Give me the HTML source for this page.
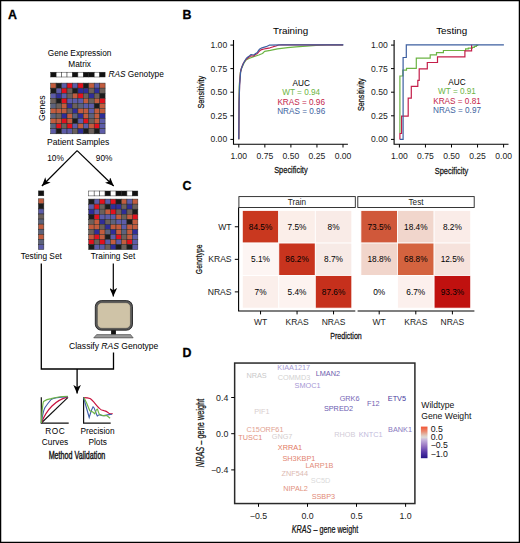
<!DOCTYPE html><html><head><meta charset="utf-8"><style>html,body{margin:0;padding:0;background:#fff;width:520px;height:543px;overflow:hidden}svg{display:block}text{font-family:"Liberation Sans",sans-serif}</style></head><body>
<svg width="520" height="543" viewBox="0 0 520 543">
<rect x="0" y="0" width="520" height="543" fill="#fff"/>
<rect x="0.6" y="0.6" width="518.8" height="541.8" fill="none" stroke="#000" stroke-width="1.3"/>
<defs><marker id="ah" viewBox="0 0 10 10" refX="10" refY="5" markerWidth="8.6" markerHeight="7.6" preserveAspectRatio="none" markerUnits="userSpaceOnUse" orient="auto"><path d="M0,0 L10,5 L0,10 L2.6,5 Z" fill="#000"/></marker></defs>
<text x="8.00" y="18.70" font-size="12.4" text-anchor="start" fill="#000" font-weight="bold" stroke="#000" stroke-width="0.3">A</text>
<text x="79.60" y="56.40" font-size="8.3" text-anchor="middle" fill="#000">Gene Expression</text>
<text x="79.60" y="66.80" font-size="8.3" text-anchor="middle" fill="#000">Matrix</text>
<rect x="50.70" y="72.20" width="5.44" height="4.80" fill="#111" stroke="#222" stroke-width="0.45"/>
<rect x="56.14" y="72.20" width="5.44" height="4.80" fill="#fff" stroke="#222" stroke-width="0.45"/>
<rect x="61.58" y="72.20" width="5.44" height="4.80" fill="#fff" stroke="#222" stroke-width="0.45"/>
<rect x="67.02" y="72.20" width="5.44" height="4.80" fill="#fff" stroke="#222" stroke-width="0.45"/>
<rect x="72.46" y="72.20" width="5.44" height="4.80" fill="#111" stroke="#222" stroke-width="0.45"/>
<rect x="77.90" y="72.20" width="5.44" height="4.80" fill="#fff" stroke="#222" stroke-width="0.45"/>
<rect x="83.34" y="72.20" width="5.44" height="4.80" fill="#111" stroke="#222" stroke-width="0.45"/>
<rect x="88.78" y="72.20" width="5.44" height="4.80" fill="#111" stroke="#222" stroke-width="0.45"/>
<rect x="94.22" y="72.20" width="5.44" height="4.80" fill="#fff" stroke="#222" stroke-width="0.45"/>
<rect x="99.66" y="72.20" width="5.44" height="4.80" fill="#111" stroke="#222" stroke-width="0.45"/>
<text x="108.5" y="77.3" font-size="8.3"><tspan font-style="italic">RAS</tspan> Genotype</text>
<rect x="50.70" y="83.10" width="5.44" height="5.07" fill="#c25c3e" stroke="#2a2a2a" stroke-width="0.5"/>
<rect x="56.14" y="83.10" width="5.44" height="5.07" fill="#1c1c1c" stroke="#2a2a2a" stroke-width="0.5"/>
<rect x="61.58" y="83.10" width="5.44" height="5.07" fill="#5d5ca8" stroke="#2a2a2a" stroke-width="0.5"/>
<rect x="67.02" y="83.10" width="5.44" height="5.07" fill="#e2111d" stroke="#2a2a2a" stroke-width="0.5"/>
<rect x="72.46" y="83.10" width="5.44" height="5.07" fill="#5d5ca8" stroke="#2a2a2a" stroke-width="0.5"/>
<rect x="77.90" y="83.10" width="5.44" height="5.07" fill="#e2111d" stroke="#2a2a2a" stroke-width="0.5"/>
<rect x="83.34" y="83.10" width="5.44" height="5.07" fill="#1c1c1c" stroke="#2a2a2a" stroke-width="0.5"/>
<rect x="88.78" y="83.10" width="5.44" height="5.07" fill="#c25c3e" stroke="#2a2a2a" stroke-width="0.5"/>
<rect x="94.22" y="83.10" width="5.44" height="5.07" fill="#5d5ca8" stroke="#2a2a2a" stroke-width="0.5"/>
<rect x="99.66" y="83.10" width="5.44" height="5.07" fill="#c25c3e" stroke="#2a2a2a" stroke-width="0.5"/>
<rect x="50.70" y="88.17" width="5.44" height="5.07" fill="#1c1c1c" stroke="#2a2a2a" stroke-width="0.5"/>
<rect x="56.14" y="88.17" width="5.44" height="5.07" fill="#5d5ca8" stroke="#2a2a2a" stroke-width="0.5"/>
<rect x="61.58" y="88.17" width="5.44" height="5.07" fill="#e2111d" stroke="#2a2a2a" stroke-width="0.5"/>
<rect x="67.02" y="88.17" width="5.44" height="5.07" fill="#6c605b" stroke="#2a2a2a" stroke-width="0.5"/>
<rect x="72.46" y="88.17" width="5.44" height="5.07" fill="#1c1c1c" stroke="#2a2a2a" stroke-width="0.5"/>
<rect x="77.90" y="88.17" width="5.44" height="5.07" fill="#2f2d98" stroke="#2a2a2a" stroke-width="0.5"/>
<rect x="83.34" y="88.17" width="5.44" height="5.07" fill="#2f2d98" stroke="#2a2a2a" stroke-width="0.5"/>
<rect x="88.78" y="88.17" width="5.44" height="5.07" fill="#6c605b" stroke="#2a2a2a" stroke-width="0.5"/>
<rect x="94.22" y="88.17" width="5.44" height="5.07" fill="#2f2d98" stroke="#2a2a2a" stroke-width="0.5"/>
<rect x="99.66" y="88.17" width="5.44" height="5.07" fill="#6c605b" stroke="#2a2a2a" stroke-width="0.5"/>
<rect x="50.70" y="93.24" width="5.44" height="5.07" fill="#5d5ca8" stroke="#2a2a2a" stroke-width="0.5"/>
<rect x="56.14" y="93.24" width="5.44" height="5.07" fill="#2f2d98" stroke="#2a2a2a" stroke-width="0.5"/>
<rect x="61.58" y="93.24" width="5.44" height="5.07" fill="#5d5ca8" stroke="#2a2a2a" stroke-width="0.5"/>
<rect x="67.02" y="93.24" width="5.44" height="5.07" fill="#6c605b" stroke="#2a2a2a" stroke-width="0.5"/>
<rect x="72.46" y="93.24" width="5.44" height="5.07" fill="#c25c3e" stroke="#2a2a2a" stroke-width="0.5"/>
<rect x="77.90" y="93.24" width="5.44" height="5.07" fill="#e2111d" stroke="#2a2a2a" stroke-width="0.5"/>
<rect x="83.34" y="93.24" width="5.44" height="5.07" fill="#6c605b" stroke="#2a2a2a" stroke-width="0.5"/>
<rect x="88.78" y="93.24" width="5.44" height="5.07" fill="#2f2d98" stroke="#2a2a2a" stroke-width="0.5"/>
<rect x="94.22" y="93.24" width="5.44" height="5.07" fill="#6c605b" stroke="#2a2a2a" stroke-width="0.5"/>
<rect x="99.66" y="93.24" width="5.44" height="5.07" fill="#1c1c1c" stroke="#2a2a2a" stroke-width="0.5"/>
<rect x="50.70" y="98.31" width="5.44" height="5.07" fill="#6c605b" stroke="#2a2a2a" stroke-width="0.5"/>
<rect x="56.14" y="98.31" width="5.44" height="5.07" fill="#1c1c1c" stroke="#2a2a2a" stroke-width="0.5"/>
<rect x="61.58" y="98.31" width="5.44" height="5.07" fill="#e2111d" stroke="#2a2a2a" stroke-width="0.5"/>
<rect x="67.02" y="98.31" width="5.44" height="5.07" fill="#5d5ca8" stroke="#2a2a2a" stroke-width="0.5"/>
<rect x="72.46" y="98.31" width="5.44" height="5.07" fill="#5d5ca8" stroke="#2a2a2a" stroke-width="0.5"/>
<rect x="77.90" y="98.31" width="5.44" height="5.07" fill="#5d5ca8" stroke="#2a2a2a" stroke-width="0.5"/>
<rect x="83.34" y="98.31" width="5.44" height="5.07" fill="#c25c3e" stroke="#2a2a2a" stroke-width="0.5"/>
<rect x="88.78" y="98.31" width="5.44" height="5.07" fill="#6c605b" stroke="#2a2a2a" stroke-width="0.5"/>
<rect x="94.22" y="98.31" width="5.44" height="5.07" fill="#c25c3e" stroke="#2a2a2a" stroke-width="0.5"/>
<rect x="99.66" y="98.31" width="5.44" height="5.07" fill="#e2111d" stroke="#2a2a2a" stroke-width="0.5"/>
<rect x="50.70" y="103.38" width="5.44" height="5.07" fill="#5c627c" stroke="#2a2a2a" stroke-width="0.5"/>
<rect x="56.14" y="103.38" width="5.44" height="5.07" fill="#6c605b" stroke="#2a2a2a" stroke-width="0.5"/>
<rect x="61.58" y="103.38" width="5.44" height="5.07" fill="#c25c3e" stroke="#2a2a2a" stroke-width="0.5"/>
<rect x="67.02" y="103.38" width="5.44" height="5.07" fill="#2f2d98" stroke="#2a2a2a" stroke-width="0.5"/>
<rect x="72.46" y="103.38" width="5.44" height="5.07" fill="#6c605b" stroke="#2a2a2a" stroke-width="0.5"/>
<rect x="77.90" y="103.38" width="5.44" height="5.07" fill="#5c627c" stroke="#2a2a2a" stroke-width="0.5"/>
<rect x="83.34" y="103.38" width="5.44" height="5.07" fill="#5d5ca8" stroke="#2a2a2a" stroke-width="0.5"/>
<rect x="88.78" y="103.38" width="5.44" height="5.07" fill="#5d5ca8" stroke="#2a2a2a" stroke-width="0.5"/>
<rect x="94.22" y="103.38" width="5.44" height="5.07" fill="#1c1c1c" stroke="#2a2a2a" stroke-width="0.5"/>
<rect x="99.66" y="103.38" width="5.44" height="5.07" fill="#c25c3e" stroke="#2a2a2a" stroke-width="0.5"/>
<rect x="50.70" y="108.45" width="5.44" height="5.07" fill="#c25c3e" stroke="#2a2a2a" stroke-width="0.5"/>
<rect x="56.14" y="108.45" width="5.44" height="5.07" fill="#c25c3e" stroke="#2a2a2a" stroke-width="0.5"/>
<rect x="61.58" y="108.45" width="5.44" height="5.07" fill="#c25c3e" stroke="#2a2a2a" stroke-width="0.5"/>
<rect x="67.02" y="108.45" width="5.44" height="5.07" fill="#6c605b" stroke="#2a2a2a" stroke-width="0.5"/>
<rect x="72.46" y="108.45" width="5.44" height="5.07" fill="#2f2d98" stroke="#2a2a2a" stroke-width="0.5"/>
<rect x="77.90" y="108.45" width="5.44" height="5.07" fill="#c25c3e" stroke="#2a2a2a" stroke-width="0.5"/>
<rect x="83.34" y="108.45" width="5.44" height="5.07" fill="#c25c3e" stroke="#2a2a2a" stroke-width="0.5"/>
<rect x="88.78" y="108.45" width="5.44" height="5.07" fill="#5d5ca8" stroke="#2a2a2a" stroke-width="0.5"/>
<rect x="94.22" y="108.45" width="5.44" height="5.07" fill="#c25c3e" stroke="#2a2a2a" stroke-width="0.5"/>
<rect x="99.66" y="108.45" width="5.44" height="5.07" fill="#c25c3e" stroke="#2a2a2a" stroke-width="0.5"/>
<rect x="50.70" y="113.52" width="5.44" height="5.07" fill="#5c627c" stroke="#2a2a2a" stroke-width="0.5"/>
<rect x="56.14" y="113.52" width="5.44" height="5.07" fill="#6c605b" stroke="#2a2a2a" stroke-width="0.5"/>
<rect x="61.58" y="113.52" width="5.44" height="5.07" fill="#2f2d98" stroke="#2a2a2a" stroke-width="0.5"/>
<rect x="67.02" y="113.52" width="5.44" height="5.07" fill="#c25c3e" stroke="#2a2a2a" stroke-width="0.5"/>
<rect x="72.46" y="113.52" width="5.44" height="5.07" fill="#5c627c" stroke="#2a2a2a" stroke-width="0.5"/>
<rect x="77.90" y="113.52" width="5.44" height="5.07" fill="#2f2d98" stroke="#2a2a2a" stroke-width="0.5"/>
<rect x="83.34" y="113.52" width="5.44" height="5.07" fill="#c25c3e" stroke="#2a2a2a" stroke-width="0.5"/>
<rect x="88.78" y="113.52" width="5.44" height="5.07" fill="#5c627c" stroke="#2a2a2a" stroke-width="0.5"/>
<rect x="94.22" y="113.52" width="5.44" height="5.07" fill="#c25c3e" stroke="#2a2a2a" stroke-width="0.5"/>
<rect x="99.66" y="113.52" width="5.44" height="5.07" fill="#2f2d98" stroke="#2a2a2a" stroke-width="0.5"/>
<rect x="50.70" y="118.59" width="5.44" height="5.07" fill="#c25c3e" stroke="#2a2a2a" stroke-width="0.5"/>
<rect x="56.14" y="118.59" width="5.44" height="5.07" fill="#c25c3e" stroke="#2a2a2a" stroke-width="0.5"/>
<rect x="61.58" y="118.59" width="5.44" height="5.07" fill="#e2111d" stroke="#2a2a2a" stroke-width="0.5"/>
<rect x="67.02" y="118.59" width="5.44" height="5.07" fill="#c25c3e" stroke="#2a2a2a" stroke-width="0.5"/>
<rect x="72.46" y="118.59" width="5.44" height="5.07" fill="#1c1c1c" stroke="#2a2a2a" stroke-width="0.5"/>
<rect x="77.90" y="118.59" width="5.44" height="5.07" fill="#5d5ca8" stroke="#2a2a2a" stroke-width="0.5"/>
<rect x="83.34" y="118.59" width="5.44" height="5.07" fill="#e2111d" stroke="#2a2a2a" stroke-width="0.5"/>
<rect x="88.78" y="118.59" width="5.44" height="5.07" fill="#6c605b" stroke="#2a2a2a" stroke-width="0.5"/>
<rect x="94.22" y="118.59" width="5.44" height="5.07" fill="#c25c3e" stroke="#2a2a2a" stroke-width="0.5"/>
<rect x="99.66" y="118.59" width="5.44" height="5.07" fill="#5d5ca8" stroke="#2a2a2a" stroke-width="0.5"/>
<rect x="50.70" y="123.66" width="5.44" height="5.07" fill="#5c627c" stroke="#2a2a2a" stroke-width="0.5"/>
<rect x="56.14" y="123.66" width="5.44" height="5.07" fill="#e2111d" stroke="#2a2a2a" stroke-width="0.5"/>
<rect x="61.58" y="123.66" width="5.44" height="5.07" fill="#6c605b" stroke="#2a2a2a" stroke-width="0.5"/>
<rect x="67.02" y="123.66" width="5.44" height="5.07" fill="#e2111d" stroke="#2a2a2a" stroke-width="0.5"/>
<rect x="72.46" y="123.66" width="5.44" height="5.07" fill="#5d5ca8" stroke="#2a2a2a" stroke-width="0.5"/>
<rect x="77.90" y="123.66" width="5.44" height="5.07" fill="#c25c3e" stroke="#2a2a2a" stroke-width="0.5"/>
<rect x="83.34" y="123.66" width="5.44" height="5.07" fill="#5d5ca8" stroke="#2a2a2a" stroke-width="0.5"/>
<rect x="88.78" y="123.66" width="5.44" height="5.07" fill="#c25c3e" stroke="#2a2a2a" stroke-width="0.5"/>
<rect x="94.22" y="123.66" width="5.44" height="5.07" fill="#e2111d" stroke="#2a2a2a" stroke-width="0.5"/>
<rect x="99.66" y="123.66" width="5.44" height="5.07" fill="#5d5ca8" stroke="#2a2a2a" stroke-width="0.5"/>
<rect x="50.70" y="128.73" width="5.44" height="5.07" fill="#5d5ca8" stroke="#2a2a2a" stroke-width="0.5"/>
<rect x="56.14" y="128.73" width="5.44" height="5.07" fill="#1c1c1c" stroke="#2a2a2a" stroke-width="0.5"/>
<rect x="61.58" y="128.73" width="5.44" height="5.07" fill="#5d5ca8" stroke="#2a2a2a" stroke-width="0.5"/>
<rect x="67.02" y="128.73" width="5.44" height="5.07" fill="#5d5ca8" stroke="#2a2a2a" stroke-width="0.5"/>
<rect x="72.46" y="128.73" width="5.44" height="5.07" fill="#6c605b" stroke="#2a2a2a" stroke-width="0.5"/>
<rect x="77.90" y="128.73" width="5.44" height="5.07" fill="#2f2d98" stroke="#2a2a2a" stroke-width="0.5"/>
<rect x="83.34" y="128.73" width="5.44" height="5.07" fill="#1c1c1c" stroke="#2a2a2a" stroke-width="0.5"/>
<rect x="88.78" y="128.73" width="5.44" height="5.07" fill="#6c605b" stroke="#2a2a2a" stroke-width="0.5"/>
<rect x="94.22" y="128.73" width="5.44" height="5.07" fill="#1c1c1c" stroke="#2a2a2a" stroke-width="0.5"/>
<rect x="99.66" y="128.73" width="5.44" height="5.07" fill="#5d5ca8" stroke="#2a2a2a" stroke-width="0.5"/>
<text x="0.00" y="0.00" font-size="8.7" text-anchor="middle" fill="#000" transform="translate(45.20,108.30) rotate(-90)">Genes</text>
<text x="78.20" y="144.80" font-size="8.55" text-anchor="middle" fill="#000">Patient Samples</text>
<path d="M77.1,150.6 L41.9,186.0" stroke="#000" stroke-width="1.25" fill="none" marker-end="url(#ah)"/>
<path d="M77.1,150.6 L113.7,186.0" stroke="#000" stroke-width="1.25" fill="none" marker-end="url(#ah)"/>
<text x="55.50" y="161.20" font-size="8.3" text-anchor="middle" fill="#000">10%</text>
<text x="104.10" y="161.20" font-size="8.3" text-anchor="middle" fill="#000">90%</text>
<rect x="38.40" y="190.90" width="5.44" height="4.90" fill="#111" stroke="#222" stroke-width="0.45"/>
<rect x="38.40" y="198.80" width="5.44" height="5.07" fill="#c25c3e" stroke="#2a2a2a" stroke-width="0.5"/>
<rect x="38.40" y="203.87" width="5.44" height="5.07" fill="#1c1c1c" stroke="#2a2a2a" stroke-width="0.5"/>
<rect x="38.40" y="208.94" width="5.44" height="5.07" fill="#5d5ca8" stroke="#2a2a2a" stroke-width="0.5"/>
<rect x="38.40" y="214.01" width="5.44" height="5.07" fill="#6c605b" stroke="#2a2a2a" stroke-width="0.5"/>
<rect x="38.40" y="219.08" width="5.44" height="5.07" fill="#5c627c" stroke="#2a2a2a" stroke-width="0.5"/>
<rect x="38.40" y="224.15" width="5.44" height="5.07" fill="#c25c3e" stroke="#2a2a2a" stroke-width="0.5"/>
<rect x="38.40" y="229.22" width="5.44" height="5.07" fill="#5c627c" stroke="#2a2a2a" stroke-width="0.5"/>
<rect x="38.40" y="234.29" width="5.44" height="5.07" fill="#c25c3e" stroke="#2a2a2a" stroke-width="0.5"/>
<rect x="38.40" y="239.36" width="5.44" height="5.07" fill="#5c627c" stroke="#2a2a2a" stroke-width="0.5"/>
<rect x="38.40" y="244.43" width="5.44" height="5.07" fill="#5d5ca8" stroke="#2a2a2a" stroke-width="0.5"/>
<rect x="88.70" y="191.00" width="5.46" height="4.90" fill="#fff" stroke="#222" stroke-width="0.45"/>
<rect x="94.16" y="191.00" width="5.46" height="4.90" fill="#fff" stroke="#222" stroke-width="0.45"/>
<rect x="99.62" y="191.00" width="5.46" height="4.90" fill="#fff" stroke="#222" stroke-width="0.45"/>
<rect x="105.08" y="191.00" width="5.46" height="4.90" fill="#111" stroke="#222" stroke-width="0.45"/>
<rect x="110.54" y="191.00" width="5.46" height="4.90" fill="#fff" stroke="#222" stroke-width="0.45"/>
<rect x="116.00" y="191.00" width="5.46" height="4.90" fill="#111" stroke="#222" stroke-width="0.45"/>
<rect x="121.46" y="191.00" width="5.46" height="4.90" fill="#111" stroke="#222" stroke-width="0.45"/>
<rect x="126.92" y="191.00" width="5.46" height="4.90" fill="#fff" stroke="#222" stroke-width="0.45"/>
<rect x="132.38" y="191.00" width="5.46" height="4.90" fill="#111" stroke="#222" stroke-width="0.45"/>
<rect x="88.70" y="199.10" width="5.46" height="5.05" fill="#1c1c1c" stroke="#2a2a2a" stroke-width="0.5"/>
<rect x="94.16" y="199.10" width="5.46" height="5.05" fill="#5d5ca8" stroke="#2a2a2a" stroke-width="0.5"/>
<rect x="99.62" y="199.10" width="5.46" height="5.05" fill="#e2111d" stroke="#2a2a2a" stroke-width="0.5"/>
<rect x="105.08" y="199.10" width="5.46" height="5.05" fill="#5d5ca8" stroke="#2a2a2a" stroke-width="0.5"/>
<rect x="110.54" y="199.10" width="5.46" height="5.05" fill="#e2111d" stroke="#2a2a2a" stroke-width="0.5"/>
<rect x="116.00" y="199.10" width="5.46" height="5.05" fill="#1c1c1c" stroke="#2a2a2a" stroke-width="0.5"/>
<rect x="121.46" y="199.10" width="5.46" height="5.05" fill="#c25c3e" stroke="#2a2a2a" stroke-width="0.5"/>
<rect x="126.92" y="199.10" width="5.46" height="5.05" fill="#5d5ca8" stroke="#2a2a2a" stroke-width="0.5"/>
<rect x="132.38" y="199.10" width="5.46" height="5.05" fill="#c25c3e" stroke="#2a2a2a" stroke-width="0.5"/>
<rect x="88.70" y="204.15" width="5.46" height="5.05" fill="#5d5ca8" stroke="#2a2a2a" stroke-width="0.5"/>
<rect x="94.16" y="204.15" width="5.46" height="5.05" fill="#e2111d" stroke="#2a2a2a" stroke-width="0.5"/>
<rect x="99.62" y="204.15" width="5.46" height="5.05" fill="#6c605b" stroke="#2a2a2a" stroke-width="0.5"/>
<rect x="105.08" y="204.15" width="5.46" height="5.05" fill="#1c1c1c" stroke="#2a2a2a" stroke-width="0.5"/>
<rect x="110.54" y="204.15" width="5.46" height="5.05" fill="#2f2d98" stroke="#2a2a2a" stroke-width="0.5"/>
<rect x="116.00" y="204.15" width="5.46" height="5.05" fill="#2f2d98" stroke="#2a2a2a" stroke-width="0.5"/>
<rect x="121.46" y="204.15" width="5.46" height="5.05" fill="#6c605b" stroke="#2a2a2a" stroke-width="0.5"/>
<rect x="126.92" y="204.15" width="5.46" height="5.05" fill="#2f2d98" stroke="#2a2a2a" stroke-width="0.5"/>
<rect x="132.38" y="204.15" width="5.46" height="5.05" fill="#6c605b" stroke="#2a2a2a" stroke-width="0.5"/>
<rect x="88.70" y="209.20" width="5.46" height="5.05" fill="#2f2d98" stroke="#2a2a2a" stroke-width="0.5"/>
<rect x="94.16" y="209.20" width="5.46" height="5.05" fill="#5d5ca8" stroke="#2a2a2a" stroke-width="0.5"/>
<rect x="99.62" y="209.20" width="5.46" height="5.05" fill="#6c605b" stroke="#2a2a2a" stroke-width="0.5"/>
<rect x="105.08" y="209.20" width="5.46" height="5.05" fill="#c25c3e" stroke="#2a2a2a" stroke-width="0.5"/>
<rect x="110.54" y="209.20" width="5.46" height="5.05" fill="#e2111d" stroke="#2a2a2a" stroke-width="0.5"/>
<rect x="116.00" y="209.20" width="5.46" height="5.05" fill="#6c605b" stroke="#2a2a2a" stroke-width="0.5"/>
<rect x="121.46" y="209.20" width="5.46" height="5.05" fill="#2f2d98" stroke="#2a2a2a" stroke-width="0.5"/>
<rect x="126.92" y="209.20" width="5.46" height="5.05" fill="#6c605b" stroke="#2a2a2a" stroke-width="0.5"/>
<rect x="132.38" y="209.20" width="5.46" height="5.05" fill="#1c1c1c" stroke="#2a2a2a" stroke-width="0.5"/>
<rect x="88.70" y="214.25" width="5.46" height="5.05" fill="#1c1c1c" stroke="#2a2a2a" stroke-width="0.5"/>
<rect x="94.16" y="214.25" width="5.46" height="5.05" fill="#e2111d" stroke="#2a2a2a" stroke-width="0.5"/>
<rect x="99.62" y="214.25" width="5.46" height="5.05" fill="#5d5ca8" stroke="#2a2a2a" stroke-width="0.5"/>
<rect x="105.08" y="214.25" width="5.46" height="5.05" fill="#5d5ca8" stroke="#2a2a2a" stroke-width="0.5"/>
<rect x="110.54" y="214.25" width="5.46" height="5.05" fill="#5d5ca8" stroke="#2a2a2a" stroke-width="0.5"/>
<rect x="116.00" y="214.25" width="5.46" height="5.05" fill="#c25c3e" stroke="#2a2a2a" stroke-width="0.5"/>
<rect x="121.46" y="214.25" width="5.46" height="5.05" fill="#6c605b" stroke="#2a2a2a" stroke-width="0.5"/>
<rect x="126.92" y="214.25" width="5.46" height="5.05" fill="#c25c3e" stroke="#2a2a2a" stroke-width="0.5"/>
<rect x="132.38" y="214.25" width="5.46" height="5.05" fill="#e2111d" stroke="#2a2a2a" stroke-width="0.5"/>
<rect x="88.70" y="219.30" width="5.46" height="5.05" fill="#6c605b" stroke="#2a2a2a" stroke-width="0.5"/>
<rect x="94.16" y="219.30" width="5.46" height="5.05" fill="#c25c3e" stroke="#2a2a2a" stroke-width="0.5"/>
<rect x="99.62" y="219.30" width="5.46" height="5.05" fill="#2f2d98" stroke="#2a2a2a" stroke-width="0.5"/>
<rect x="105.08" y="219.30" width="5.46" height="5.05" fill="#6c605b" stroke="#2a2a2a" stroke-width="0.5"/>
<rect x="110.54" y="219.30" width="5.46" height="5.05" fill="#5c627c" stroke="#2a2a2a" stroke-width="0.5"/>
<rect x="116.00" y="219.30" width="5.46" height="5.05" fill="#5d5ca8" stroke="#2a2a2a" stroke-width="0.5"/>
<rect x="121.46" y="219.30" width="5.46" height="5.05" fill="#5d5ca8" stroke="#2a2a2a" stroke-width="0.5"/>
<rect x="126.92" y="219.30" width="5.46" height="5.05" fill="#1c1c1c" stroke="#2a2a2a" stroke-width="0.5"/>
<rect x="132.38" y="219.30" width="5.46" height="5.05" fill="#c25c3e" stroke="#2a2a2a" stroke-width="0.5"/>
<rect x="88.70" y="224.35" width="5.46" height="5.05" fill="#c25c3e" stroke="#2a2a2a" stroke-width="0.5"/>
<rect x="94.16" y="224.35" width="5.46" height="5.05" fill="#c25c3e" stroke="#2a2a2a" stroke-width="0.5"/>
<rect x="99.62" y="224.35" width="5.46" height="5.05" fill="#6c605b" stroke="#2a2a2a" stroke-width="0.5"/>
<rect x="105.08" y="224.35" width="5.46" height="5.05" fill="#2f2d98" stroke="#2a2a2a" stroke-width="0.5"/>
<rect x="110.54" y="224.35" width="5.46" height="5.05" fill="#c25c3e" stroke="#2a2a2a" stroke-width="0.5"/>
<rect x="116.00" y="224.35" width="5.46" height="5.05" fill="#c25c3e" stroke="#2a2a2a" stroke-width="0.5"/>
<rect x="121.46" y="224.35" width="5.46" height="5.05" fill="#5d5ca8" stroke="#2a2a2a" stroke-width="0.5"/>
<rect x="126.92" y="224.35" width="5.46" height="5.05" fill="#c25c3e" stroke="#2a2a2a" stroke-width="0.5"/>
<rect x="132.38" y="224.35" width="5.46" height="5.05" fill="#c25c3e" stroke="#2a2a2a" stroke-width="0.5"/>
<rect x="88.70" y="229.40" width="5.46" height="5.05" fill="#6c605b" stroke="#2a2a2a" stroke-width="0.5"/>
<rect x="94.16" y="229.40" width="5.46" height="5.05" fill="#2f2d98" stroke="#2a2a2a" stroke-width="0.5"/>
<rect x="99.62" y="229.40" width="5.46" height="5.05" fill="#c25c3e" stroke="#2a2a2a" stroke-width="0.5"/>
<rect x="105.08" y="229.40" width="5.46" height="5.05" fill="#5c627c" stroke="#2a2a2a" stroke-width="0.5"/>
<rect x="110.54" y="229.40" width="5.46" height="5.05" fill="#2f2d98" stroke="#2a2a2a" stroke-width="0.5"/>
<rect x="116.00" y="229.40" width="5.46" height="5.05" fill="#c25c3e" stroke="#2a2a2a" stroke-width="0.5"/>
<rect x="121.46" y="229.40" width="5.46" height="5.05" fill="#5c627c" stroke="#2a2a2a" stroke-width="0.5"/>
<rect x="126.92" y="229.40" width="5.46" height="5.05" fill="#c25c3e" stroke="#2a2a2a" stroke-width="0.5"/>
<rect x="132.38" y="229.40" width="5.46" height="5.05" fill="#2f2d98" stroke="#2a2a2a" stroke-width="0.5"/>
<rect x="88.70" y="234.45" width="5.46" height="5.05" fill="#c25c3e" stroke="#2a2a2a" stroke-width="0.5"/>
<rect x="94.16" y="234.45" width="5.46" height="5.05" fill="#e2111d" stroke="#2a2a2a" stroke-width="0.5"/>
<rect x="99.62" y="234.45" width="5.46" height="5.05" fill="#c25c3e" stroke="#2a2a2a" stroke-width="0.5"/>
<rect x="105.08" y="234.45" width="5.46" height="5.05" fill="#1c1c1c" stroke="#2a2a2a" stroke-width="0.5"/>
<rect x="110.54" y="234.45" width="5.46" height="5.05" fill="#5d5ca8" stroke="#2a2a2a" stroke-width="0.5"/>
<rect x="116.00" y="234.45" width="5.46" height="5.05" fill="#e2111d" stroke="#2a2a2a" stroke-width="0.5"/>
<rect x="121.46" y="234.45" width="5.46" height="5.05" fill="#6c605b" stroke="#2a2a2a" stroke-width="0.5"/>
<rect x="126.92" y="234.45" width="5.46" height="5.05" fill="#c25c3e" stroke="#2a2a2a" stroke-width="0.5"/>
<rect x="132.38" y="234.45" width="5.46" height="5.05" fill="#5d5ca8" stroke="#2a2a2a" stroke-width="0.5"/>
<rect x="88.70" y="239.50" width="5.46" height="5.05" fill="#e2111d" stroke="#2a2a2a" stroke-width="0.5"/>
<rect x="94.16" y="239.50" width="5.46" height="5.05" fill="#6c605b" stroke="#2a2a2a" stroke-width="0.5"/>
<rect x="99.62" y="239.50" width="5.46" height="5.05" fill="#e2111d" stroke="#2a2a2a" stroke-width="0.5"/>
<rect x="105.08" y="239.50" width="5.46" height="5.05" fill="#5d5ca8" stroke="#2a2a2a" stroke-width="0.5"/>
<rect x="110.54" y="239.50" width="5.46" height="5.05" fill="#c25c3e" stroke="#2a2a2a" stroke-width="0.5"/>
<rect x="116.00" y="239.50" width="5.46" height="5.05" fill="#5d5ca8" stroke="#2a2a2a" stroke-width="0.5"/>
<rect x="121.46" y="239.50" width="5.46" height="5.05" fill="#c25c3e" stroke="#2a2a2a" stroke-width="0.5"/>
<rect x="126.92" y="239.50" width="5.46" height="5.05" fill="#e2111d" stroke="#2a2a2a" stroke-width="0.5"/>
<rect x="132.38" y="239.50" width="5.46" height="5.05" fill="#5d5ca8" stroke="#2a2a2a" stroke-width="0.5"/>
<rect x="88.70" y="244.55" width="5.46" height="5.05" fill="#1c1c1c" stroke="#2a2a2a" stroke-width="0.5"/>
<rect x="94.16" y="244.55" width="5.46" height="5.05" fill="#5d5ca8" stroke="#2a2a2a" stroke-width="0.5"/>
<rect x="99.62" y="244.55" width="5.46" height="5.05" fill="#5d5ca8" stroke="#2a2a2a" stroke-width="0.5"/>
<rect x="105.08" y="244.55" width="5.46" height="5.05" fill="#6c605b" stroke="#2a2a2a" stroke-width="0.5"/>
<rect x="110.54" y="244.55" width="5.46" height="5.05" fill="#2f2d98" stroke="#2a2a2a" stroke-width="0.5"/>
<rect x="116.00" y="244.55" width="5.46" height="5.05" fill="#1c1c1c" stroke="#2a2a2a" stroke-width="0.5"/>
<rect x="121.46" y="244.55" width="5.46" height="5.05" fill="#6c605b" stroke="#2a2a2a" stroke-width="0.5"/>
<rect x="126.92" y="244.55" width="5.46" height="5.05" fill="#1c1c1c" stroke="#2a2a2a" stroke-width="0.5"/>
<rect x="132.38" y="244.55" width="5.46" height="5.05" fill="#5d5ca8" stroke="#2a2a2a" stroke-width="0.5"/>
<text x="41.30" y="258.70" font-size="8.3" text-anchor="middle" fill="#000">Testing Set</text>
<text x="113.00" y="258.70" font-size="8.3" text-anchor="middle" fill="#000">Training Set</text>
<path d="M41.3,263.5 V369 H113.5 V352.5" stroke="#000" stroke-width="1.3" fill="none"/>
<path d="M113.3,263.5 V296.6" stroke="#000" stroke-width="1.2" fill="none" marker-end="url(#ah)"/>
<path d="M77.1,369 V393.5" stroke="#000" stroke-width="1.3" fill="none" marker-end="url(#ah)"/>
<rect x="95.3" y="300.6" width="37.2" height="29.6" rx="6" ry="6" fill="#5a5a5a" stroke="#111" stroke-width="0.8"/>
<rect x="97.4" y="302.7" width="33" height="25.6" rx="4.5" ry="4.5" fill="#cfc3a7" stroke="#333" stroke-width="0.4"/>
<rect x="111.1" y="330.2" width="4.8" height="4.4" fill="#111"/>
<path d="M96.6,334.6 H130.6 L133.2,337.9 H93.7 Z" fill="#9a9a9a" stroke="#222" stroke-width="0.5"/>
<text x="113.7" y="348.6" font-size="8.55" text-anchor="middle">Classify <tspan font-style="italic">RAS</tspan> Genotype</text>
<path d="M41.3,397.3 V423.1 H68.7" stroke="#111" stroke-width="1.2" fill="none"/>
<path d="M41.3,423 L68,397.3" stroke="#111" stroke-width="1.15" fill="none"/>
<path d="M41.3,423 C44,416 48,410 52,406 S60,399 67.8,396.9" stroke="#c8103c" stroke-width="1.15" fill="none"/>
<path d="M41.3,423 C42.5,415 43.5,410 45,407.5 C47,404.5 49,402 51.1,399.5 C54,397.5 57,397.2 67.8,396.6" stroke="#3f5fa8" stroke-width="1.15" fill="none"/>
<path d="M41.3,423 C42,412 42.5,404 43.5,401.5 C46,399.5 49,398.8 51.1,398.6 C55,397.5 60,396.6 67.8,396.3" stroke="#6cb444" stroke-width="1.15" fill="none"/>
<path d="M83.6,397.3 V423.1 H110.7" stroke="#111" stroke-width="1.2" fill="none"/>
<path d="M83.9,397.6 C86,397.6 88,397.7 90,398.6 C93,400.5 96,405 99,408 C100.5,409.8 102,410.4 104,410.6 C106,410.7 107,411.5 108.8,413.2 C110,413.8 111.5,413.9 112.7,413.6" stroke="#c8103c" stroke-width="1.15" fill="none"/>
<path d="M83.6,397.6 L86.5,408 L89.2,417.5 C90,415 91,410 93.1,406.7 C94.5,407 95.5,413 97.3,416 C98.5,415 99,414.6 100,414.8 C101.5,415.8 102.5,415.9 104,415.6 L107.5,414.9 L112,414.3" stroke="#3f5fa8" stroke-width="1.15" fill="none"/>
<path d="M83.9,397.6 L86.5,402.8 L89.8,410.7 L92.8,412 L94.7,413.8 C95.5,412 96.5,409 97.3,409 C98,410 98.5,413.5 99.5,414.3 C101,415.3 102,415.6 104,415.6 L106.8,415.6 L110.1,418.2" stroke="#6cb444" stroke-width="1.15" fill="none"/>
<text x="55.30" y="433.80" font-size="8.3" text-anchor="middle" fill="#000" letter-spacing="0.6">ROC</text>
<text x="55.00" y="444.60" font-size="8.3" text-anchor="middle" fill="#000">Curves</text>
<text x="97.50" y="433.80" font-size="8.3" text-anchor="middle" fill="#000">Precision</text>
<text x="97.70" y="444.60" font-size="8.3" text-anchor="middle" fill="#000">Plots</text>
<text x="0.00" y="0.00" font-size="10.0" text-anchor="middle" fill="#111" transform="translate(77.00,459.30) scale(0.7149,1)" stroke="#111" stroke-width="0.38">Method Validation</text>
<text x="182.40" y="18.50" font-size="12.4" text-anchor="start" fill="#000" font-weight="bold" stroke="#000" stroke-width="0.3">B</text>
<path d="M233.5,40.1 V144.2 H347.9" stroke="#000" stroke-width="1.1" fill="none"/>
<path d="M230.4,45.1 H233.5" stroke="#000" stroke-width="1"/>
<text x="227.20" y="48.10" font-size="8.6" text-anchor="end" fill="#222">1.00</text>
<path d="M230.4,68.6 H233.5" stroke="#000" stroke-width="1"/>
<text x="227.20" y="71.60" font-size="8.6" text-anchor="end" fill="#222">0.75</text>
<path d="M230.4,92.2 H233.5" stroke="#000" stroke-width="1"/>
<text x="227.20" y="95.20" font-size="8.6" text-anchor="end" fill="#222">0.50</text>
<path d="M230.4,115.8 H233.5" stroke="#000" stroke-width="1"/>
<text x="227.20" y="118.80" font-size="8.6" text-anchor="end" fill="#222">0.25</text>
<path d="M230.4,139.4 H233.5" stroke="#000" stroke-width="1"/>
<text x="227.20" y="142.40" font-size="8.6" text-anchor="end" fill="#222">0.00</text>
<path d="M238.80,144.2 V147.5" stroke="#000" stroke-width="1"/>
<text x="238.80" y="159.00" font-size="8.6" text-anchor="middle" fill="#222">1.00</text>
<path d="M264.85,144.2 V147.5" stroke="#000" stroke-width="1"/>
<text x="264.85" y="159.00" font-size="8.6" text-anchor="middle" fill="#222">0.75</text>
<path d="M290.90,144.2 V147.5" stroke="#000" stroke-width="1"/>
<text x="290.90" y="159.00" font-size="8.6" text-anchor="middle" fill="#222">0.50</text>
<path d="M316.95,144.2 V147.5" stroke="#000" stroke-width="1"/>
<text x="316.95" y="159.00" font-size="8.6" text-anchor="middle" fill="#222">0.25</text>
<path d="M343.00,144.2 V147.5" stroke="#000" stroke-width="1"/>
<text x="343.00" y="159.00" font-size="8.6" text-anchor="middle" fill="#222">0.00</text>
<text x="290.60" y="34.20" font-size="9.8" text-anchor="middle" fill="#000">Training</text>
<text x="0.00" y="0.00" font-size="9.6" text-anchor="middle" fill="#111" transform="translate(203.70,92.20) rotate(-90) scale(0.7567,1)" stroke="#111" stroke-width="0.25">Sensitivity</text>
<text x="0.00" y="0.00" font-size="9.6" text-anchor="middle" fill="#111" transform="translate(290.90,173.20) scale(0.7752,1)" stroke="#111" stroke-width="0.25">Specificity</text>
<path d="M394.1,40.1 V144.2 H508.5" stroke="#000" stroke-width="1.1" fill="none"/>
<path d="M391.0,45.1 H394.1" stroke="#000" stroke-width="1"/>
<text x="387.80" y="48.10" font-size="8.6" text-anchor="end" fill="#222">1.00</text>
<path d="M391.0,68.6 H394.1" stroke="#000" stroke-width="1"/>
<text x="387.80" y="71.60" font-size="8.6" text-anchor="end" fill="#222">0.75</text>
<path d="M391.0,92.2 H394.1" stroke="#000" stroke-width="1"/>
<text x="387.80" y="95.20" font-size="8.6" text-anchor="end" fill="#222">0.50</text>
<path d="M391.0,115.8 H394.1" stroke="#000" stroke-width="1"/>
<text x="387.80" y="118.80" font-size="8.6" text-anchor="end" fill="#222">0.25</text>
<path d="M391.0,139.4 H394.1" stroke="#000" stroke-width="1"/>
<text x="387.80" y="142.40" font-size="8.6" text-anchor="end" fill="#222">0.00</text>
<path d="M399.40,144.2 V147.5" stroke="#000" stroke-width="1"/>
<text x="399.40" y="159.40" font-size="8.6" text-anchor="middle" fill="#222">1.00</text>
<path d="M425.45,144.2 V147.5" stroke="#000" stroke-width="1"/>
<text x="425.45" y="159.40" font-size="8.6" text-anchor="middle" fill="#222">0.75</text>
<path d="M451.50,144.2 V147.5" stroke="#000" stroke-width="1"/>
<text x="451.50" y="159.40" font-size="8.6" text-anchor="middle" fill="#222">0.50</text>
<path d="M477.55,144.2 V147.5" stroke="#000" stroke-width="1"/>
<text x="477.55" y="159.40" font-size="8.6" text-anchor="middle" fill="#222">0.25</text>
<path d="M503.60,144.2 V147.5" stroke="#000" stroke-width="1"/>
<text x="503.60" y="159.40" font-size="8.6" text-anchor="middle" fill="#222">0.00</text>
<text x="451.70" y="34.20" font-size="9.8" text-anchor="middle" fill="#000">Testing</text>
<text x="0.00" y="0.00" font-size="9.6" text-anchor="middle" fill="#111" transform="translate(364.30,94.80) rotate(-90) scale(0.7567,1)" stroke="#111" stroke-width="0.25">Sensitivity</text>
<text x="0.00" y="0.00" font-size="9.6" text-anchor="middle" fill="#111" transform="translate(451.50,173.60) scale(0.7752,1)" stroke="#111" stroke-width="0.25">Specificity</text>
<path d="M238.8,139.2 L238.9,103 L239.2,86 L240.3,73 L241.2,69 L242.2,67 L244,63 L246.4,59.7 L249.5,58.2 L253.7,56.6 L258.8,55 L262.5,53.5 L264.6,51.4 L270.3,50.4 L277.5,48.8 L287.7,47.7 L296,46.8 L306.2,46.1 L316,45.4 L326.9,44.85 L343,44.8" stroke="#6cb444" stroke-width="1.2" fill="none" stroke-linejoin="round"/>
<path d="M238.8,139.2 L239.1,103 L239.6,85 L240.5,72 L241.5,68 L243.2,63.5 L244.5,61.5 L246,59.5 L248.5,57.5 L251,55.8 L253.5,56 L255.5,54.5 L257.5,53.5 L259,51.5 L260.9,49.9 L264,49 L267.2,48.3 L270,47.8 L273.4,46.7 L276,46 L278.6,45 L281.7,44.8 L343,44.8" stroke="#c41e4a" stroke-width="1.2" fill="none" stroke-linejoin="round"/>
<path d="M238.8,139.2 L239.1,103 L239.6,85.4 L240.7,71.2 L242.1,66.5 L243.8,62.8 L244.8,60.8 L246.4,58.2 L248.5,56.6 L251.1,54.5 L253.7,55 L255.7,53.5 L257.3,52.5 L258.3,50.9 L259.4,49.3 L262,47.8 L266.1,46.7 L269.2,45.2 L281.7,44.8 L343.5,44.8" stroke="#3d5fa0" stroke-width="1.2" fill="none" stroke-linejoin="round"/>
<path d="M399.9,133 V76 H402.8 V70.2 H406.5 V68.3 H416.3 V58.2 H430.2 V54.8 H436.5 V52.7 H443.4 V50.5 H465.6 V48.8 H468.3 V48.1 H472.3 V47.4 H474.3 V46.3 H476.3 V45.4 H477.7 V44.8" stroke="#6cb444" stroke-width="1.2" fill="none"/>
<path d="M399.9,139.4 V133.5 H401.6 V116.1 H408.2 V98.1 H411.3 V86.4 H417.8 V80.4 H419.2 V68.8 H427.3 V62.5 H437.5 V56.8 H464.9 V50.8 H471.6 V44.7" stroke="#c41e4a" stroke-width="1.2" fill="none"/>
<path d="M399.9,139.4 H403.1 V57.5 H406.3 V44.8 H503.9" stroke="#3d5fa0" stroke-width="1.2" fill="none"/>
<text x="301.20" y="86.00" font-size="8.2" text-anchor="middle" fill="#000">AUC</text>
<text x="301.20" y="95.20" font-size="8.2" text-anchor="middle" fill="#6cb444">WT = 0.94</text>
<text x="301.20" y="104.50" font-size="8.2" text-anchor="middle" fill="#c41e4a">KRAS = 0.96</text>
<text x="301.20" y="113.90" font-size="8.2" text-anchor="middle" fill="#3d5fa0">NRAS = 0.96</text>
<text x="457.00" y="85.10" font-size="8.2" text-anchor="middle" fill="#000">AUC</text>
<text x="457.00" y="94.30" font-size="8.2" text-anchor="middle" fill="#6cb444">WT = 0.91</text>
<text x="457.00" y="103.60" font-size="8.2" text-anchor="middle" fill="#c41e4a">KRAS = 0.81</text>
<text x="457.00" y="113.00" font-size="8.2" text-anchor="middle" fill="#3d5fa0">NRAS = 0.97</text>
<text x="182.40" y="190.20" font-size="12.4" text-anchor="start" fill="#000" font-weight="bold" stroke="#000" stroke-width="0.3">C</text>
<rect x="238.9" y="196.6" width="116.4" height="10.9" fill="#fff" stroke="#222" stroke-width="0.9"/>
<rect x="357.8" y="196.6" width="116.4" height="10.9" fill="#fff" stroke="#222" stroke-width="0.9"/>
<text x="297.00" y="204.80" font-size="8.2" text-anchor="middle" fill="#222">Train</text>
<text x="416.00" y="204.80" font-size="8.2" text-anchor="middle" fill="#222">Test</text>
<rect x="242.30" y="210.50" width="36.50" height="32.55" fill="#c9381f" stroke="#fff" stroke-width="0.8"/>
<text x="260.55" y="229.77" font-size="8.3" text-anchor="middle" fill="#000">84.5%</text>
<rect x="278.80" y="210.50" width="36.50" height="32.55" fill="#fbeee9" stroke="#fff" stroke-width="0.8"/>
<text x="297.05" y="229.77" font-size="8.3" text-anchor="middle" fill="#000">7.5%</text>
<rect x="315.30" y="210.50" width="36.50" height="32.55" fill="#f9ebe7" stroke="#fff" stroke-width="0.8"/>
<text x="333.55" y="229.77" font-size="8.3" text-anchor="middle" fill="#000">8%</text>
<rect x="242.30" y="243.05" width="36.50" height="32.55" fill="#fdf5f3" stroke="#fff" stroke-width="0.8"/>
<text x="260.55" y="262.32" font-size="8.3" text-anchor="middle" fill="#000">5.1%</text>
<rect x="278.80" y="243.05" width="36.50" height="32.55" fill="#c8341e" stroke="#fff" stroke-width="0.8"/>
<text x="297.05" y="262.32" font-size="8.3" text-anchor="middle" fill="#000">86.2%</text>
<rect x="315.30" y="243.05" width="36.50" height="32.55" fill="#f7eae6" stroke="#fff" stroke-width="0.8"/>
<text x="333.55" y="262.32" font-size="8.3" text-anchor="middle" fill="#000">8.7%</text>
<rect x="242.30" y="275.60" width="36.50" height="32.55" fill="#fbefeb" stroke="#fff" stroke-width="0.8"/>
<text x="260.55" y="294.87" font-size="8.3" text-anchor="middle" fill="#000">7%</text>
<rect x="278.80" y="275.60" width="36.50" height="32.55" fill="#fdf3f0" stroke="#fff" stroke-width="0.8"/>
<text x="297.05" y="294.87" font-size="8.3" text-anchor="middle" fill="#000">5.4%</text>
<rect x="315.30" y="275.60" width="36.50" height="32.55" fill="#c6301c" stroke="#fff" stroke-width="0.8"/>
<text x="333.55" y="294.87" font-size="8.3" text-anchor="middle" fill="#000">87.6%</text>
<rect x="360.90" y="210.50" width="36.60" height="32.55" fill="#d0583a" stroke="#fff" stroke-width="0.8"/>
<text x="379.20" y="229.77" font-size="8.3" text-anchor="middle" fill="#000">73.5%</text>
<rect x="397.50" y="210.50" width="36.60" height="32.55" fill="#f1d6cc" stroke="#fff" stroke-width="0.8"/>
<text x="415.80" y="229.77" font-size="8.3" text-anchor="middle" fill="#000">18.4%</text>
<rect x="434.10" y="210.50" width="36.60" height="32.55" fill="#faece8" stroke="#fff" stroke-width="0.8"/>
<text x="452.40" y="229.77" font-size="8.3" text-anchor="middle" fill="#000">8.2%</text>
<rect x="360.90" y="243.05" width="36.60" height="32.55" fill="#f1d5cb" stroke="#fff" stroke-width="0.8"/>
<text x="379.20" y="262.32" font-size="8.3" text-anchor="middle" fill="#000">18.8%</text>
<rect x="397.50" y="243.05" width="36.60" height="32.55" fill="#d4633f" stroke="#fff" stroke-width="0.8"/>
<text x="415.80" y="262.32" font-size="8.3" text-anchor="middle" fill="#000">68.8%</text>
<rect x="434.10" y="243.05" width="36.60" height="32.55" fill="#f6e2dc" stroke="#fff" stroke-width="0.8"/>
<text x="452.40" y="262.32" font-size="8.3" text-anchor="middle" fill="#000">12.5%</text>
<rect x="360.90" y="275.60" width="36.60" height="32.55" fill="#ffffff" stroke="#fff" stroke-width="0.8"/>
<text x="379.20" y="294.87" font-size="8.3" text-anchor="middle" fill="#000">0%</text>
<rect x="397.50" y="275.60" width="36.60" height="32.55" fill="#fcf0ed" stroke="#fff" stroke-width="0.8"/>
<text x="415.80" y="294.87" font-size="8.3" text-anchor="middle" fill="#000">6.7%</text>
<rect x="434.10" y="275.60" width="36.60" height="32.55" fill="#c0110f" stroke="#fff" stroke-width="0.8"/>
<text x="452.40" y="294.87" font-size="8.3" text-anchor="middle" fill="#000">93.3%</text>
<path d="M238.6,207.5 V311 H355.3" stroke="#000" stroke-width="1.1" fill="none"/>
<path d="M357.6,311 H474.4" stroke="#000" stroke-width="1.1" fill="none"/>
<path d="M234.8,226.78 H238.6" stroke="#000" stroke-width="1"/>
<text x="231.60" y="229.88" font-size="8.6" text-anchor="end" fill="#222">WT</text>
<path d="M260.55,311 V314.4" stroke="#000" stroke-width="1"/>
<text x="260.55" y="325.40" font-size="8.5" text-anchor="middle" fill="#222">WT</text>
<path d="M379.20,311 V314.4" stroke="#000" stroke-width="1"/>
<text x="379.20" y="325.40" font-size="8.5" text-anchor="middle" fill="#222">WT</text>
<path d="M234.8,259.33 H238.6" stroke="#000" stroke-width="1"/>
<text x="231.60" y="262.43" font-size="8.6" text-anchor="end" fill="#222">KRAS</text>
<path d="M297.05,311 V314.4" stroke="#000" stroke-width="1"/>
<text x="297.05" y="325.40" font-size="8.5" text-anchor="middle" fill="#222">KRAS</text>
<path d="M415.80,311 V314.4" stroke="#000" stroke-width="1"/>
<text x="415.80" y="325.40" font-size="8.5" text-anchor="middle" fill="#222">KRAS</text>
<path d="M234.8,291.88 H238.6" stroke="#000" stroke-width="1"/>
<text x="231.60" y="294.98" font-size="8.6" text-anchor="end" fill="#222">NRAS</text>
<path d="M333.55,311 V314.4" stroke="#000" stroke-width="1"/>
<text x="333.55" y="325.40" font-size="8.5" text-anchor="middle" fill="#222">NRAS</text>
<path d="M452.40,311 V314.4" stroke="#000" stroke-width="1"/>
<text x="452.40" y="325.40" font-size="8.5" text-anchor="middle" fill="#222">NRAS</text>
<text x="0.00" y="0.00" font-size="9.6" text-anchor="middle" fill="#111" transform="translate(202.20,259.30) rotate(-90) scale(0.7158,1)" stroke="#111" stroke-width="0.25">Genotype</text>
<text x="0.00" y="0.00" font-size="9.6" text-anchor="middle" fill="#111" transform="translate(346.00,338.80) scale(0.7402,1)" stroke="#111" stroke-width="0.25">Prediction</text>
<text x="182.40" y="357.00" font-size="12.4" text-anchor="start" fill="#000" font-weight="bold" stroke="#000" stroke-width="0.3">D</text>
<rect x="234.65" y="363.05" width="180.25" height="140.5" fill="none" stroke="#2a2a2a" stroke-width="1.5"/>
<path d="M231.2,397.5 H234.6" stroke="#000" stroke-width="1"/>
<text x="228.30" y="400.50" font-size="8.8" text-anchor="end" fill="#222">0.4</text>
<path d="M231.2,433.7 H234.6" stroke="#000" stroke-width="1"/>
<text x="228.30" y="436.70" font-size="8.8" text-anchor="end" fill="#222">0.0</text>
<path d="M231.2,469.9 H234.6" stroke="#000" stroke-width="1"/>
<text x="228.30" y="472.90" font-size="8.8" text-anchor="end" fill="#222">−0.4</text>
<path d="M258.5,503.4 V506.8" stroke="#000" stroke-width="1"/>
<text x="258.50" y="518.80" font-size="8.8" text-anchor="middle" fill="#222">−0.5</text>
<path d="M307.5,503.4 V506.8" stroke="#000" stroke-width="1"/>
<text x="307.50" y="518.80" font-size="8.8" text-anchor="middle" fill="#222">0.0</text>
<path d="M356.5,503.4 V506.8" stroke="#000" stroke-width="1"/>
<text x="356.50" y="518.80" font-size="8.8" text-anchor="middle" fill="#222">0.5</text>
<path d="M405.6,503.4 V506.8" stroke="#000" stroke-width="1"/>
<text x="405.60" y="518.80" font-size="8.8" text-anchor="middle" fill="#222">1.0</text>
<text font-size="10" text-anchor="middle" fill="#111" stroke="#111" stroke-width="0.25" transform="translate(203.8,433) rotate(-90) scale(0.738,1)"><tspan font-style="italic">NRAS</tspan> – gene weight</text>
<text font-size="10" text-anchor="middle" fill="#111" stroke="#111" stroke-width="0.25" transform="translate(325.0,532.6) scale(0.72,1)"><tspan font-style="italic">KRAS</tspan> – gene weight</text>
<text x="293.75" y="369.60" font-size="7.3" text-anchor="middle" fill="#a99ed6">KIAA1217</text>
<text x="256.60" y="377.60" font-size="7.3" text-anchor="middle" fill="#c9c9c9">NRAS</text>
<text x="294.00" y="380.10" font-size="7.3" text-anchor="middle" fill="#d2d2d2">COMMD3</text>
<text x="327.90" y="376.35" font-size="7.3" text-anchor="middle" fill="#6e5cae">LMAN2</text>
<text x="307.50" y="387.60" font-size="7.3" text-anchor="middle" fill="#a697d4">SMOC1</text>
<text x="349.60" y="400.50" font-size="7.3" text-anchor="middle" fill="#7868b6">GRK6</text>
<text x="373.40" y="405.60" font-size="7.3" text-anchor="middle" fill="#7262b2">F12</text>
<text x="396.90" y="400.70" font-size="7.3" text-anchor="middle" fill="#4a3c9e">ETV5</text>
<text x="338.50" y="411.40" font-size="7.3" text-anchor="middle" fill="#6a5bb0">SPRED2</text>
<text x="261.90" y="414.30" font-size="7.3" text-anchor="middle" fill="#d8cece">PIF1</text>
<text x="265.00" y="431.50" font-size="7.3" text-anchor="middle" fill="#e2a291">C15ORF61</text>
<text x="250.25" y="439.90" font-size="7.3" text-anchor="middle" fill="#e28c78">TUSC1</text>
<text x="282.10" y="439.00" font-size="7.3" text-anchor="middle" fill="#d4cece">GNG7</text>
<text x="344.75" y="436.70" font-size="7.3" text-anchor="middle" fill="#d2ccd8">RHOB</text>
<text x="370.60" y="436.70" font-size="7.3" text-anchor="middle" fill="#c2badc">KNTC1</text>
<text x="400.00" y="432.40" font-size="7.3" text-anchor="middle" fill="#8a7ac0">BANK1</text>
<text x="290.00" y="450.00" font-size="7.3" text-anchor="middle" fill="#e27a64">XRRA1</text>
<text x="298.90" y="461.00" font-size="7.3" text-anchor="middle" fill="#e28470">SH3KBP1</text>
<text x="319.50" y="468.40" font-size="7.3" text-anchor="middle" fill="#e28c7a">LARP1B</text>
<text x="294.80" y="476.40" font-size="7.3" text-anchor="middle" fill="#dcbab2">ZNF544</text>
<text x="320.50" y="482.80" font-size="7.3" text-anchor="middle" fill="#dadada">SC5D</text>
<text x="295.60" y="490.80" font-size="7.3" text-anchor="middle" fill="#e29280">NIPAL2</text>
<text x="323.40" y="498.50" font-size="7.3" text-anchor="middle" fill="#e28a78">SSBP3</text>
<text x="421.30" y="408.00" font-size="8.6" text-anchor="start" fill="#111">Wildtype</text>
<text x="421.30" y="418.80" font-size="8.6" text-anchor="start" fill="#111">Gene Weight</text>
<defs><linearGradient id="lg" x1="0" y1="0" x2="0" y2="1"><stop offset="0" stop-color="#f25535"/><stop offset="0.15" stop-color="#ea8a70"/><stop offset="0.3" stop-color="#ddd0c8"/><stop offset="0.34" stop-color="#dcd8d8"/><stop offset="0.42" stop-color="#c6b4dc"/><stop offset="0.6" stop-color="#9a78c4"/><stop offset="0.8" stop-color="#5a3aa8"/><stop offset="1" stop-color="#241488"/></linearGradient></defs>
<rect x="420.9" y="426.6" width="6.6" height="31.6" fill="url(#lg)"/>
<text x="430.70" y="432.20" font-size="8.7" text-anchor="start" fill="#111">0.5</text>
<text x="430.70" y="440.00" font-size="8.7" text-anchor="start" fill="#111">0.0</text>
<text x="430.70" y="448.30" font-size="8.7" text-anchor="start" fill="#111">−0.5</text>
<text x="430.70" y="456.70" font-size="8.7" text-anchor="start" fill="#111">−1.0</text>
</svg></body></html>
